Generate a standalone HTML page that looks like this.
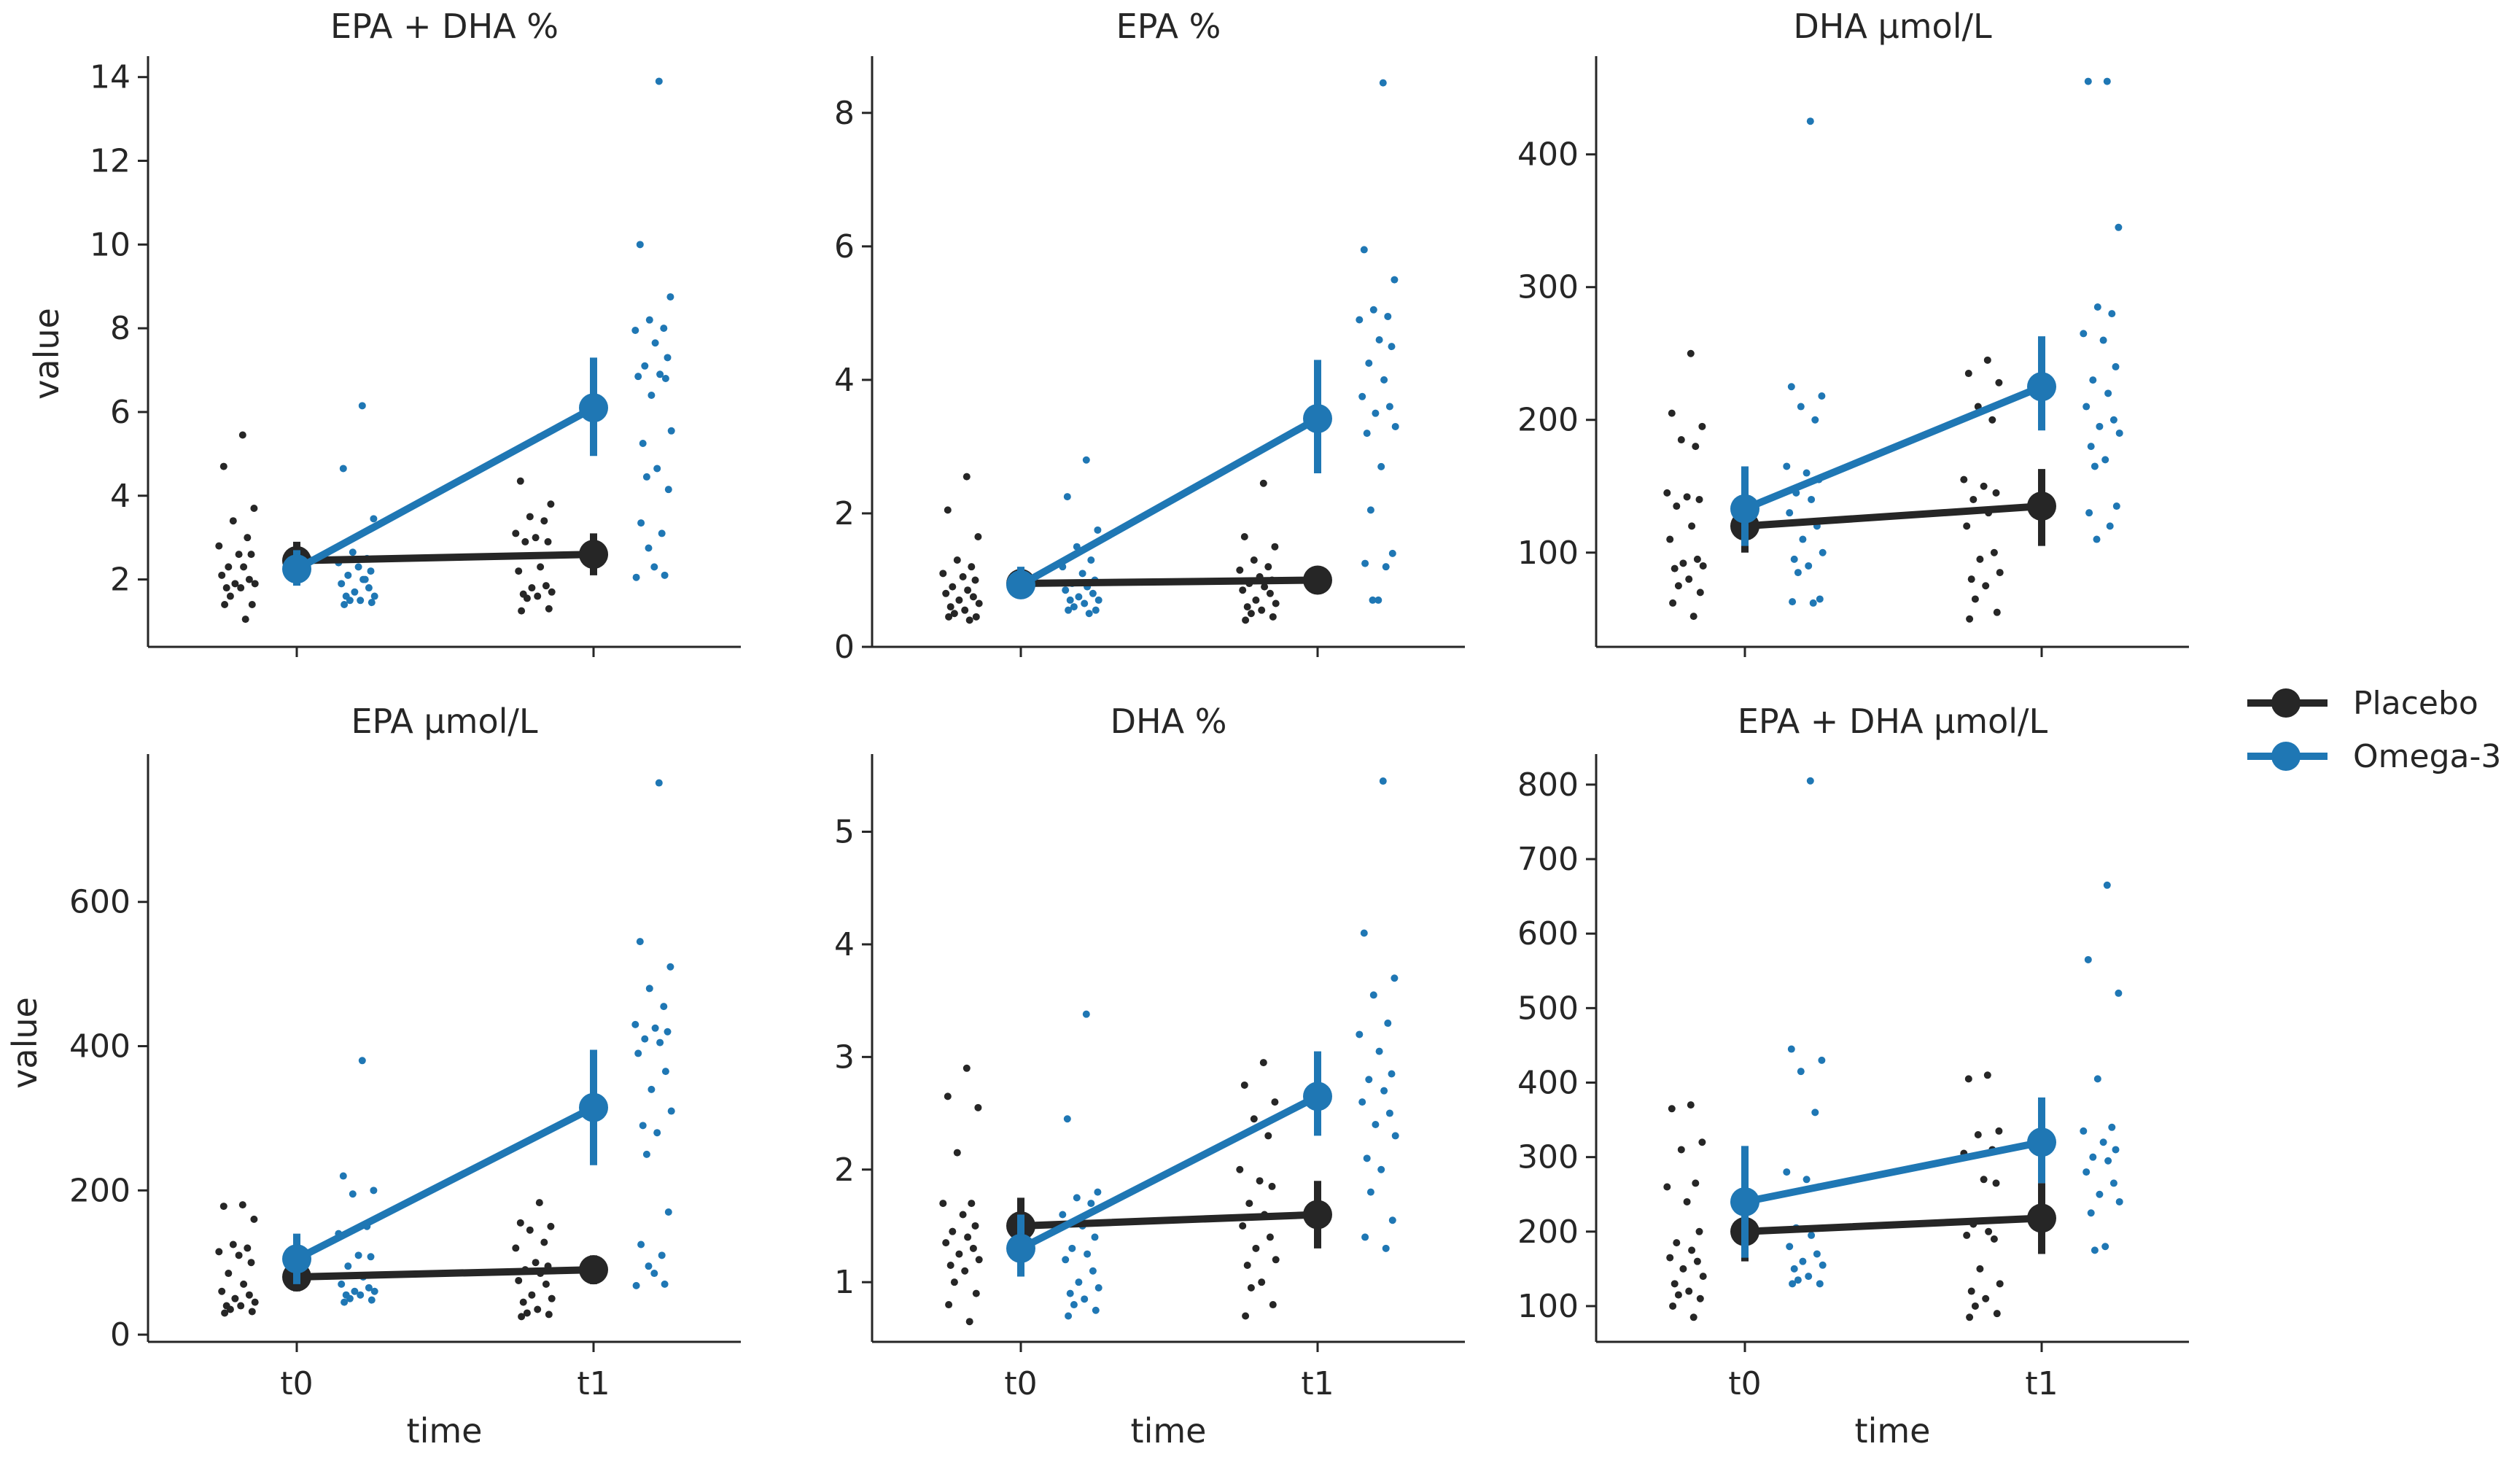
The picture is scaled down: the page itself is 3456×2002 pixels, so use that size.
<!DOCTYPE html>
<html><head><meta charset="utf-8">
<style>
html,body{margin:0;padding:0;background:#fff;}
svg{display:block;font-family:"DejaVu Sans","Liberation Sans",sans-serif;}
</style></head>
<body>
<svg id="fig" width="3456" height="2002" viewBox="0 0 3456 2002" xmlns="http://www.w3.org/2000/svg">
<rect width="3456" height="2002" fill="#fff"/>
<g>
  <line x1="3082" y1="964" x2="3192" y2="964" stroke="#262626" stroke-width="10"/>
  <circle cx="3135" cy="964" r="20" fill="#262626"/>
  <text x="3227" y="979" font-size="44" fill="#262626">Placebo</text>
  <line x1="3082" y1="1037" x2="3192" y2="1037" stroke="#1f77b4" stroke-width="10"/>
  <circle cx="3135" cy="1037" r="20" fill="#1f77b4"/>
  <text x="3227" y="1052" font-size="44" fill="#262626">Omega-3</text>
</g>
</svg>
<script>
const categories = ["t0","t1"];
const groups = ["Placebo","Omega-3"];
const titles = ["EPA + DHA %","EPA %","DHA µmol/L","EPA µmol/L","DHA %","EPA + DHA µmol/L"];
const ticks = [[2,4,6,8,10,12,14],[0,2,4,6,8],[100,200,300,400],[0,200,400,600],[1,2,3,4,5],[100,200,300,400,500,600,700,800]];
const tickLabels = [["2","4","6","8","10","12","14"],["0","2","4","6","8"],["100","200","300","400"],["0","200","400","600"],["1","2","3","4","5"],["100","200","300","400","500","600","700","800"]];
const yDomains = [[0.39,14.5],[0,8.85],[29,474],[-10,805],[0.47,5.69],[52,841]];
const placeboMeans = [[2.45,2.6],[0.95,1.0],[120,135],[80,90],[1.5,1.6],[200,218]];
const omegaMeans = [[2.25,6.1],[0.93,3.42],[133,225],[105,315],[1.3,2.65],[240,320]];
const placeboCI = [[[2.0,2.9],[2.1,3.1]],[[0.75,1.15],[0.8,1.2]],[[100,140],[105,163]],[[60,100],[70,110]],[[1.25,1.75],[1.3,1.9]],[[160,240],[170,265]]];
const omegaCI = [[[1.85,2.7],[4.95,7.3]],[[0.72,1.2],[2.6,4.3]],[[105,165],[192,263]],[[70,140],[235,395]],[[1.05,1.6],[2.3,3.05]],[[165,315],[265,380]]];
const placeboT0 = [
 [5.45,4.7,3.7,3.4,3.0,2.8,2.6,2.6,2.3,2.3,2.1,2.0,1.9,1.9,1.8,1.8,1.6,1.4,1.4,1.05],
 [2.55,2.05,1.65,1.3,1.2,1.1,1.05,1.0,0.9,0.85,0.8,0.75,0.7,0.65,0.6,0.55,0.5,0.45,0.45,0.4],
 [250,205,195,185,180,145,142,140,135,120,110,95,92,90,88,80,75,70,62,52],
 [180,178,160,125,120,115,110,100,85,70,60,55,50,45,40,40,35,32,30],
 [2.9,2.65,2.55,2.15,1.7,1.7,1.6,1.5,1.45,1.4,1.35,1.3,1.25,1.2,1.15,1.1,1.0,0.9,0.8,0.65],
 [370,365,320,310,265,260,240,200,185,175,165,160,150,140,130,120,115,110,100,85]];
const omegaT0 = [
 [6.15,4.65,3.45,2.65,2.5,2.4,2.3,2.2,2.1,2.0,1.9,1.8,1.7,1.6,1.6,1.5,1.5,1.45,1.4,2.0],
 [2.8,2.25,1.75,1.5,1.3,1.2,1.1,1.0,0.95,0.9,0.85,0.8,0.75,0.7,0.7,0.65,0.6,0.55,0.55,0.5],
 [425,225,218,210,200,165,160,155,145,140,130,120,110,100,95,90,85,65,63,62],
 [380,220,200,195,150,140,110,108,95,80,70,65,60,60,55,55,50,48,45],
 [3.38,2.45,1.8,1.75,1.7,1.6,1.5,1.4,1.3,1.25,1.2,1.1,1.0,0.95,0.9,0.85,0.8,0.75,0.7],
 [805,445,430,415,360,280,270,260,205,195,180,170,160,155,150,140,135,130,130]];
const placeboT1 = [
 [5.4,4.35,3.8,3.5,3.4,3.1,3.0,2.9,2.9,2.3,2.2,1.85,1.8,1.7,1.65,1.6,1.55,1.3,1.25],
 [2.45,1.65,1.5,1.3,1.2,1.15,1.05,1.0,0.95,0.9,0.85,0.8,0.7,0.65,0.6,0.55,0.5,0.45,0.4],
 [245,235,228,210,200,155,150,145,140,130,120,100,95,85,80,75,65,55,50],
 [183,155,150,145,128,120,100,95,90,85,75,70,55,50,45,35,30,28,25],
 [2.95,2.75,2.6,2.45,2.3,2.0,1.9,1.85,1.7,1.6,1.5,1.4,1.3,1.2,1.15,1.0,0.95,0.8,0.7],
 [410,405,335,330,310,305,270,265,210,200,195,190,150,130,120,110,100,90,85]];
const omegaT1 = [
 [13.9,10.0,8.75,8.2,8.0,7.95,7.65,7.3,7.1,6.9,6.85,6.8,6.4,5.55,5.25,4.65,4.45,4.15,3.35,3.1,2.75,2.3,2.1,2.05],
 [8.45,5.95,5.5,5.05,4.95,4.9,4.6,4.5,4.25,4.0,3.75,3.6,3.5,3.3,3.2,2.7,2.05,1.4,1.25,1.2,0.7,0.7],
 [455,455,345,285,280,265,260,240,230,220,210,200,195,190,180,170,165,135,130,120,110],
 [765,545,510,480,455,430,425,420,410,405,390,365,340,310,290,280,250,170,125,110,95,85,70,68],
 [5.45,4.1,3.7,3.55,3.3,3.2,3.05,2.85,2.8,2.7,2.6,2.5,2.4,2.3,2.1,2.0,1.8,1.55,1.4,1.3],
 [665,565,520,405,340,335,320,310,300,295,280,265,250,240,225,180,175]];

const NS = "http://www.w3.org/2000/svg";
const svg = document.getElementById("fig");
const colLeft = [203,1196,2189];
const rowTop = [77,1034];
const rowBottom = [887,1840];
const AW = 813;
const DARK = "#262626", BLUE = "#1f77b4";
function mk(tag, attrs, parent){
  const e = document.createElementNS(NS, tag);
  for (const k in attrs) e.setAttribute(k, attrs[k]);
  (parent||svg).appendChild(e);
  return e;
}
const jit = [0.3,-0.7,0.9,-0.2,0.55,-0.95,0.1,0.75,-0.45,0.35,-0.8,0.65,-0.1,0.95,-0.55,0.2,-0.35,0.8,-0.65,0.45,-0.25,0.05,0.6,-0.9];

for (let p = 0; p < 6; p++) {
  const r = Math.floor(p/3), c = p%3;
  const L = colLeft[c], T = rowTop[r], B = rowBottom[r];
  const dom = yDomains[p];
  const y = v => B - (v - dom[0]) / (dom[1] - dom[0]) * (B - T);
  const x = i => L + 204 + i * 407;
  const g = mk("g", {});
  
  
  const title = mk("text", {x: L + AW/2, y: r === 0 ? 52 : 1005, "font-size": 46, "text-anchor": "middle", fill: DARK}, g);
  title.textContent = titles[p];
  
  
  const ys = mk("line", {x1: L, y1: T, x2: L, y2: B, stroke: DARK, "stroke-width": 3}, g);
  
  
  const xs = mk("line", {x1: L, y1: B, x2: L + AW, y2: B, stroke: DARK, "stroke-width": 3}, g);
  
  
  ticks[p].forEach((tv, i) => {
    const ty = y(tv);
    mk("line", {x1: L - 14, y1: ty, x2: L, y2: ty, stroke: DARK, "stroke-width": 3}, g);
    const tl = mk("text", {x: L - 24, y: ty + 15, "font-size": 44, "text-anchor": "end", fill: DARK}, g);
    tl.textContent = tickLabels[p][i];
    
    
  });
  categories.forEach((cat, i) => {
    mk("line", {x1: x(i), y1: B, x2: x(i), y2: B + 14, stroke: DARK, "stroke-width": 3}, g);
    if (r === 1) {
      const tl = mk("text", {x: x(i), y: B + 72, "font-size": 44, "text-anchor": "middle", fill: DARK}, g);
      tl.textContent = cat;
      
      
    }
  });
  if (r === 1) {
    const xl = mk("text", {x: L + AW/2, y: 1978, "font-size": 46, "text-anchor": "middle", fill: DARK}, g);
    xl.textContent = "time";
    
    
  }
  if (c === 0) {
    const yl = mk("text", {x: 0, y: 0, "font-size": 46, "text-anchor": "middle", fill: DARK, transform: "translate(" + (r===0?80:50) + "," + (r===0?485:1430) + ") rotate(-90)"}, g);
    yl.textContent = "value";
    
    
  }
  const strips = [[placeboT0[p], 0, -82, DARK], [omegaT0[p], 0, 82, BLUE], [placeboT1[p], 1, -82, DARK], [omegaT1[p], 1, 82, BLUE]];
  strips.forEach(s => {
    s[0].forEach((v, k) => {
      const d = mk("circle", {cx: x(s[1]) + s[2] + jit[k % jit.length] * 26, cy: y(v), r: 5, fill: s[3]}, g);
      
      
    });
  });
  [[placeboMeans[p], placeboCI[p], DARK, "placebo"], [omegaMeans[p], omegaCI[p], BLUE, "omega3"]].forEach(s => {
    const ln = mk("line", {x1: x(0), y1: y(s[0][0]), x2: x(1), y2: y(s[0][1]), stroke: s[2], "stroke-width": 10, "stroke-linecap": "round"}, g);
    
    
    [0,1].forEach(i => {
      const eb = mk("line", {x1: x(i), y1: y(s[1][i][0]), x2: x(i), y2: y(s[1][i][1]), stroke: s[2], "stroke-width": 10}, g);
      
      
      const m = mk("circle", {cx: x(i), cy: y(s[0][i]), r: 20, fill: s[2]}, g);
      
      
    });
  });
}
</script>
</body></html>
